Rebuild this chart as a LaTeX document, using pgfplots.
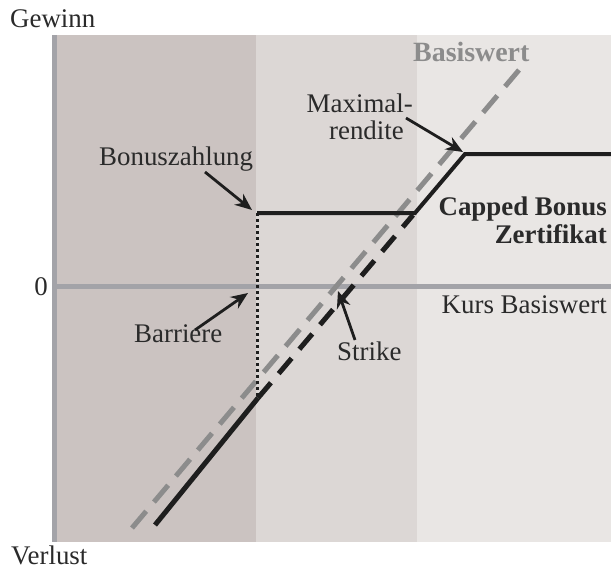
\documentclass[border=0pt]{standalone}
\usepackage{pgfplots}
\pgfplotsset{compat=1.18}
\usepackage{fontspec}
\setmainfont{Liberation Serif}
\usetikzlibrary{arrows.meta}
\definecolor{bgA}{HTML}{CBC3C1}
\definecolor{bgB}{HTML}{DCD7D5}
\definecolor{bgC}{HTML}{E9E6E4}
\definecolor{axg}{HTML}{A3A3A8}
\definecolor{basg}{HTML}{8C8C8C}
\definecolor{blk}{HTML}{1E1E1E}
\definecolor{txt}{HTML}{2A2A2A}
\tikzset{
  lbl/.style={font=\fontsize{27}{28}\selectfont, text=txt, inner sep=0pt},
  arr/.style={-{Stealth[length=17bp,width=14bp]}, line width=2.8bp, blk}}
\begin{document}
\begin{tikzpicture}
\begin{axis}[scale only axis, width=611bp, height=569bp,
  xmin=0, xmax=611, ymin=0, ymax=569, y dir=reverse,
  hide axis, clip=false]
% backgrounds
\addplot[fill=bgA, draw=none] coordinates {(55,35)(256,35)(256,542)(55,542)} -- cycle;
\addplot[fill=bgB, draw=none] coordinates {(256,35)(417,35)(417,542)(256,542)} -- cycle;
\addplot[fill=bgC, draw=none] coordinates {(417,35)(611,35)(611,542)(417,542)} -- cycle;
% axes
\addplot[axg, line width=5bp] coordinates {(54.5,35)(54.5,542)};
\addplot[axg, line width=5bp] coordinates {(57,286)(611,286)};
% Basiswert
\addplot[basg, line width=5bp, dash pattern=on 22bp off 12bp] coordinates {(132,528)(519,70)};
% certificate
\addplot[blk, line width=5bp] coordinates {(155,525)(258,398)};
\addplot[blk, line width=5bp, dash pattern=on 20bp off 12bp] coordinates {(258,398)(413,215)};
\addplot[blk, line width=3bp, dash pattern=on 3bp off 3bp] coordinates {(257,213)(257,398)};
\addplot[blk, line width=4bp] coordinates {(257,213)(415,213)(465,154)(611,154)};
% labels
\node[lbl, anchor=base west] at (axis cs:10,28) {Gewinn};
\node[lbl, anchor=base west] at (axis cs:11,564) {Verlust};
\node[lbl, anchor=base] at (axis cs:41,295) {0};
\node[lbl, anchor=base east] at (axis cs:607,313) {Kurs Basiswert};
\node[lbl, anchor=base west, text=basg, font=\fontsize{28}{30}\selectfont\bfseries] at (axis cs:413,62) {Basiswert};
\node[lbl, anchor=base east] at (axis cs:413,113) {Maximal-};
\node[lbl, anchor=base east] at (axis cs:404,140) {rendite};
\node[lbl, anchor=base west] at (axis cs:99,165) {Bonuszahlung};
\node[lbl, anchor=base east, font=\fontsize{27}{28}\selectfont\bfseries] at (axis cs:607,215) {Capped Bonus};
\node[lbl, anchor=base east, font=\fontsize{27}{28}\selectfont\bfseries] at (axis cs:607,243) {Zertifikat};
\node[lbl, anchor=base west] at (axis cs:134,342) {Barriere};
\node[lbl, anchor=base west] at (axis cs:337,360) {Strike};
% arrows
\draw[arr] (axis cs:205,172) -- (axis cs:252,210);
\draw[arr] (axis cs:406,118) -- (axis cs:463,152);
\draw[arr] (axis cs:195,330) -- (axis cs:248,293);
\draw[arr] (axis cs:355,340) -- (axis cs:338,291);
\end{axis}
\pgfresetboundingbox
\path (current axis.south west) rectangle (current axis.north east);
\end{tikzpicture}
\end{document}
